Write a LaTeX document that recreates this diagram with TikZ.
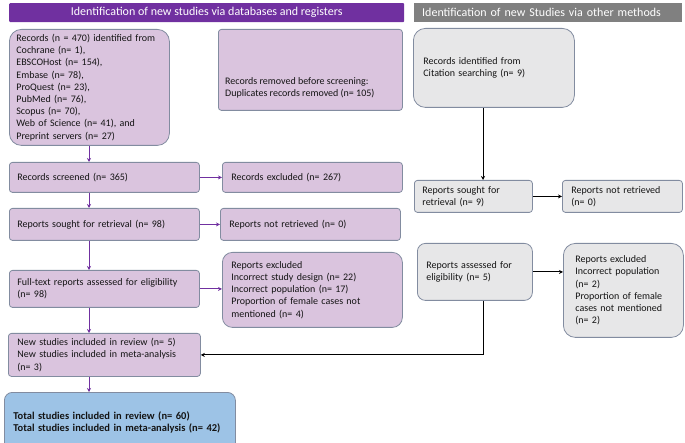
\documentclass[tikz,border=0pt]{standalone}
\usepackage{fontspec}
\setmainfont{Carlito}
\usetikzlibrary{arrows.meta,calc}
\definecolor{hdrpurple}{RGB}{112,48,160}
\definecolor{hdrgray}{RGB}{128,128,128}
\definecolor{lpurple}{RGB}{218,196,222}
\definecolor{lgray}{RGB}{231,231,232}
\definecolor{lblue}{RGB}{157,195,230}
\definecolor{edgec}{RGB}{130,140,160}
\definecolor{txt}{RGB}{20,20,20}
\begin{document}
\begin{tikzpicture}[x=1pt,y=-1pt,
  font=\fontsize{10}{12.2}\selectfont,
  box/.style={draw=edgec, line width=0.8pt, text=txt, align=left, anchor=north west, inner xsep=8pt, inner ysep=2pt},
  pbox/.style={box, fill=lpurple},
  gbox/.style={box, fill=lgray},
  hdr/.style={text=white, anchor=north west, minimum height=19pt, inner ysep=0pt, font=\fontsize{12}{14}\selectfont},
  parr/.style={draw=hdrpurple, line width=1pt, -{Stealth[length=4pt,width=4pt]}},
  karr/.style={draw=black, line width=0.8pt, -{Stealth[length=4pt,width=4pt]}}]
\useasboundingbox (0,0) rectangle (685,443);

% headers
\node[hdr, fill=hdrpurple, minimum width=395pt, rounded corners=1pt] (h1) at (9,3) {Identification of new studies via databases and registers};
\node[hdr, fill=hdrgray, minimum width=268pt, text width=252pt, inner xsep=8pt, align=left] (h2) at (414,3) {Identification of new Studies via other methods};

% left column
\node[pbox, rounded corners=12pt, minimum width=160pt, minimum height=116pt, text width=146pt, inner xsep=7pt] (rec) at (9,29)
 {Records (n = 470) identified from\\Cochrane (n= 1),\\EBSCOHost (n= 154),\\Embase (n= 78),\\ProQuest (n= 23),\\PubMed (n= 76),\\Scopus (n= 70),\\Web of Science (n= 41), and\\Preprint servers (n= 27)};
\node[pbox, rounded corners=3pt, minimum width=184pt, minimum height=81pt] (rem) at (218,29) {};
\node[anchor=west, text=txt, align=left, inner sep=0pt] (remtxt) at (225,88) {Records removed before screening:\\Duplicates records removed (n= 105)};

\node[pbox, rounded corners=3pt, minimum width=190pt, minimum height=30pt, text width=174pt] (scr) at (9,162) {Records screened (n= 365)};
\node[pbox, rounded corners=3pt, minimum width=180pt, minimum height=30pt, text width=162pt, inner xsep=9pt] (exc) at (222,162) {Records excluded (n= 267)};

\node[pbox, rounded corners=3pt, minimum width=190pt, minimum height=32pt, text width=174pt] (sought) at (9,208) {Reports sought for retrieval (n= 98)};
\node[pbox, rounded corners=3pt, minimum width=180pt, minimum height=32pt, text width=162pt, inner xsep=9pt] (notret) at (220,208) {Reports not retrieved (n= 0)};

\node[pbox, rounded corners=3pt, minimum width=190pt, minimum height=37pt, text width=174pt] (ft) at (9,270) {Full-text reports assessed for eligibility\\(n= 98)};
\node[pbox, rounded corners=10pt, minimum width=180pt, minimum height=75pt, text width=162pt, inner xsep=9pt] (rexc) at (222,252)
 {Reports excluded\\Incorrect study design (n= 22)\\Incorrect population (n= 17)\\Proportion of female cases not\\mentioned (n= 4)};

\node[pbox, rounded corners=3pt, minimum width=192pt, minimum height=43pt, text width=174pt, inner xsep=9pt] (new) at (8,333)
 {New studies included in review (n= 5)\\New studies included in meta-analysis\\(n= 3)};
\node[box, fill=lblue, rounded corners=8pt, minimum width=231pt, minimum height=60pt, text width=213pt, inner xsep=9pt, font=\fontsize{10.5}{12.6}\selectfont\bfseries] (total) at (4,392)
 {Total studies included in review (n= 60)\\Total studies included in meta-analysis (n= 42)};

% right column
\node[gbox, rounded corners=12pt, minimum width=161pt, minimum height=79pt, text width=141pt, inner xsep=10pt] (cit) at (413,28) {Records identified from\\Citation searching (n= 9)};
\node[gbox, rounded corners=3pt, minimum width=118pt, minimum height=32pt, text width=102pt] (rsought) at (414,180) {Reports sought for\\retrieval (n= 9)};
\node[gbox, rounded corners=3pt, minimum width=120pt, minimum height=32pt, text width=102pt, inner xsep=9pt] (rnotret) at (562,180) {Reports not retrieved\\(n= 0)};
\node[gbox, rounded corners=8pt, minimum width=115pt, minimum height=57pt, text width=97pt, inner xsep=9pt] (ass) at (417,243) {Reports assessed for\\eligibility (n= 5)};
\node[gbox, rounded corners=12pt, minimum width=120pt, minimum height=94pt, text width=96pt, inner xsep=12pt] (rexc2) at (563,243)
 {Reports excluded\\Incorrect population\\(n= 2)\\Proportion of female\\cases not mentioned\\(n= 2)};

% connectors
\coordinate (lx) at (89,0);
\coordinate (vx) at (483,0);
\draw[parr] (rec.south -| lx) -- (scr.north -| lx);
\draw[parr] (scr.south -| lx) -- (sought.north -| lx);
\draw[parr] (sought.south -| lx) -- (ft.north -| lx);
\draw[parr] (ft.south -| lx) -- (new.north -| lx);
\draw[parr] (new.south -| lx) -- (total.north -| lx);
\draw[parr] (scr.east) -- (exc.west);
\draw[parr] (sought.east) -- (notret.west);
\draw[parr] (ft.east) -- (ft.east -| rexc.west);

\draw[karr] (cit.south -| vx) -- (rsought.north -| vx);
\draw[karr] (rsought.east) -- (rnotret.west);
\draw[karr] (ass.east) -- (ass.east -| rexc2.west);
\draw[karr] (ass.south -| vx) |- (new.east);
\end{tikzpicture}
\end{document}
